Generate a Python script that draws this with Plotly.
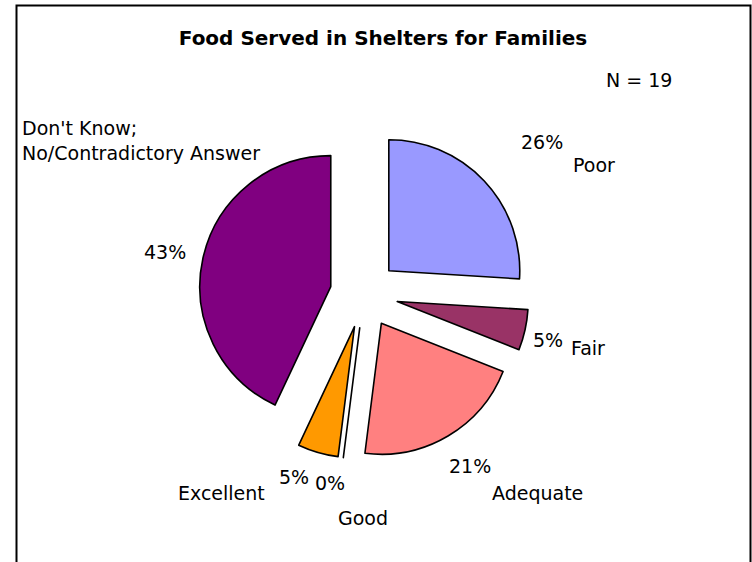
import plotly.graph_objects as go

# Canvas size in pixels
W, H = 752, 562

# Survey results (percent of N respondents), clockwise from 12 o'clock
categories = ["Poor", "Fair", "Adequate", "Good", "Excellent",
              "Don't Know;<br>No/Contradictory Answer"]
percent = [26, 5, 21, 0, 5, 43]
colors = ["#9999FF", "#993366", "#FF8080", "#FFFFFF", "#FF9900", "#800080"]
n_total = 19
title_text = "Food Served in Shelters for Families"

# Label placement in pixels (left edge, vertical centre)
pct_pos = [(519, 142), (531, 340), (447, 466), (313, 483), (277, 477), (142, 252)]
name_pos = [(571, 165), (569, 348), (490, 493), (336, 518), (176, 493), (20, 140)]

FONT = "DejaVu Sans"
FS = 19


def px(x):
    return x / W


def py(y):
    return 1 - y / H


# Pie geometry: centre and half-size of the domain in pixels
cx, cy, half = 364, 294, 165
pull = 0.26

fig = go.Figure(
    go.Pie(
        labels=categories,
        values=percent,
        sort=False,
        direction="clockwise",
        rotation=0,
        pull=[pull] * len(percent),
        marker=dict(colors=colors, line=dict(color="black", width=1.6)),
        textinfo="none",
        hoverinfo="label+percent",
        showlegend=False,
        domain=dict(x=[px(cx - half), px(cx + half)],
                    y=[py(cy + half), py(cy - half)]),
    )
)

annotations = []
for v, (x, y) in zip(percent, pct_pos):
    annotations.append(dict(
        x=px(x), y=py(y), xref="paper", yref="paper",
        text=f"{v}%", showarrow=False, xanchor="left", yanchor="middle",
        font=dict(family=FONT, size=FS, color="black"),
    ))
for name, (x, y) in zip(categories, name_pos):
    annotations.append(dict(
        x=px(x), y=py(y), xref="paper", yref="paper",
        text=name, showarrow=False, xanchor="left", yanchor="middle",
        align="left",
        font=dict(family=FONT, size=FS, color="black"),
    ))
annotations.append(dict(
    x=px(604), y=py(80), xref="paper", yref="paper",
    text=f"N = {n_total}", showarrow=False, xanchor="left", yanchor="middle",
    font=dict(family=FONT, size=FS, color="black"),
))

fig.update_layout(
    width=W, height=H,
    margin=dict(l=0, r=0, t=0, b=0),
    paper_bgcolor="white",
    plot_bgcolor="white",
    title=dict(text=f"<b>{title_text}</b>", x=px(383), y=py(38),
               xanchor="center", yanchor="middle",
               font=dict(family=FONT, size=20, color="black")),
    annotations=annotations,
    shapes=[dict(type="rect", xref="paper", yref="paper",
                 x0=px(16.5), x1=px(750.5), y0=-0.05, y1=py(5.5),
                 line=dict(color="black", width=2))],
)

fig.write_html("out.html")
